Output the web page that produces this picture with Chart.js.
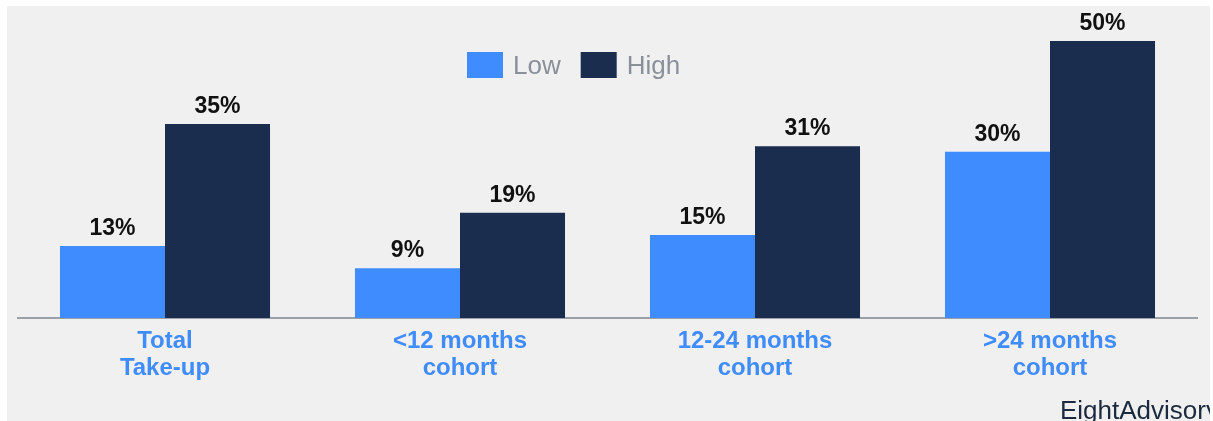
<!DOCTYPE html>
<html>
<head>
<meta charset="utf-8">
<script src="https://cdn.jsdelivr.net/npm/chart.js@4/dist/chart.umd.min.js"></script>
<style>
  html, body { margin: 0; padding: 0; background: #fff; }
  .wrap { position: relative; width: 1213px; height: 421px; }
</style>
</head>
<body>
<div class="wrap"><canvas id="takeup"></canvas></div>
<script>
const categories = [['Total', 'Take-up'], ['<12 months', 'cohort'], ['12-24 months', 'cohort'], ['>24 months', 'cohort']];
const lowValues = [13, 9, 15, 30];
const highValues = [35, 19, 31, 50];

const LOW_COLOR = '#3f8cff';
const HIGH_COLOR = '#1b2d4e';
const FONT = "'Liberation Sans', Arial, sans-serif";

// grey panel behind everything
const panelBg = {
  id: 'panelBg',
  beforeDraw(chart) {
    const ctx = chart.ctx;
    ctx.save();
    ctx.fillStyle = '#f0f0f0';
    ctx.fillRect(7, 6, 1203, 415);
    ctx.restore();
  },
};

// value labels on top of the bars
const valueLabels = {
  id: 'valueLabels',
  afterDatasetsDraw(chart) {
    const ctx = chart.ctx;
    ctx.save();
    ctx.font = `bold 23px ${FONT}`;
    ctx.fillStyle = '#111';
    ctx.textAlign = 'center';
    ctx.textBaseline = 'alphabetic';
    chart.data.datasets.forEach((ds, i) => {
      chart.getDatasetMeta(i).data.forEach((bar, j) => {
        ctx.fillText(ds.data[j] + '%', bar.x, bar.y - 11);
      });
    });
    ctx.restore();
  },
};

// legend floating inside the plot + logo
const overlay = {
  id: 'overlay',
  afterDraw(chart) {
    const ctx = chart.ctx;
    ctx.save();
    let x = 467;
    ctx.font = `26px ${FONT}`;
    ctx.textBaseline = 'middle';
    chart.data.datasets.forEach((ds) => {
      ctx.fillStyle = ds.backgroundColor;
      ctx.fillRect(x, 52, 36, 26);
      ctx.fillStyle = '#8a909a';
      ctx.fillText(ds.label, x + 46, 67);
      x += 46 + ctx.measureText(ds.label).width + 20;
    });

    ctx.beginPath();
    ctx.rect(7, 6, 1203, 415);
    ctx.clip();
    ctx.fillStyle = '#1b2a3e';
    ctx.font = `26px ${FONT}`;
    ctx.textBaseline = 'alphabetic';
    ctx.fillText('EightAdvisory', 1060, 419);
    ctx.restore();
  },
};

new Chart(document.getElementById('takeup'), {
  type: 'bar',
  data: {
    labels: categories,
    datasets: [
      { label: 'Low', data: lowValues, backgroundColor: LOW_COLOR },
      { label: 'High', data: highValues, backgroundColor: HIGH_COLOR },
    ],
  },
  options: {
    responsive: true,
    maintainAspectRatio: false,
    animation: false,
    layout: { padding: { left: 17.5, right: 15.5, top: 41, bottom: 29 } },
    datasets: { bar: { barPercentage: 1, categoryPercentage: 0.712 } },
    plugins: {
      legend: { display: false },
      tooltip: { enabled: false },
    },
    scales: {
      x: {
        grid: { display: false, drawTicks: false },
        border: { display: true, color: '#9aa0a8', width: 2 },
        ticks: {
          padding: 10,
          color: LOW_COLOR,
          font: { family: FONT, size: 24, weight: 'bold', lineHeight: 1.125 },
          maxRotation: 0,
        },
      },
      y: {
        display: false,
        min: 0,
        max: 50,
      },
    },
  },
  plugins: [panelBg, valueLabels, overlay],
});
</script>
</body>
</html>
